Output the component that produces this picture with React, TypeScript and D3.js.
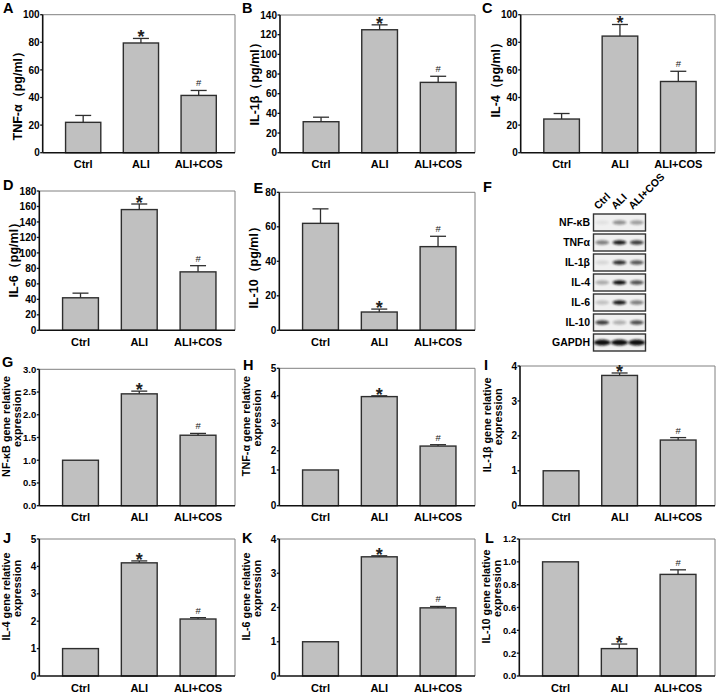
import React from 'react';
import * as d3 from 'd3';

const categories = ['Ctrl', 'ALI', 'ALI+COS'];
const markers = ['', '*', '#'];

// Panel A-E: cytokine levels (pg/ml)
const valuesA = [22, 79.5, 41.5];
const errorsA = [5, 3.3, 3.6];
const valuesB = [31.5, 125, 71.5];
const errorsB = [4.6, 5, 6.2];
const valuesC = [24.4, 84.5, 51.6];
const errorsC = [4, 8.4, 7.4];
const valuesD = [42, 156, 75.5];
const errorsD = [6, 7.2, 8];
const valuesE = [62, 10.6, 48.5];
const errorsE = [8.4, 1.7, 6];
// Panel G-L: relative gene expression
const valuesG = [1, 2.46, 1.55];
const errorsG = [0, 0.06, 0.04];
const valuesH = [1, 3.97, 2.17];
const errorsH = [0, 0.03, 0.05];
const valuesI = [1, 3.73, 1.88];
const errorsI = [0, 0.07, 0.07];
const valuesJ = [1, 4.13, 2.08];
const errorsJ = [0, 0.07, 0.05];
const valuesK = [1, 3.48, 1.99];
const errorsK = [0, 0.03, 0.04];
const valuesL = [1, 0.24, 0.89];
const errorsL = [0, 0.04, 0.04];

// y-axis ticks
const ticksA = [0, 20, 40, 60, 80, 100];
const ticksB = [0, 20, 40, 60, 80, 100, 120, 140];
const ticksC = [0, 20, 40, 60, 80, 100];
const ticksD = [0, 20, 40, 60, 80, 100, 120, 140, 160, 180];
const ticksE = [0, 20, 40, 60, 80];
const ticksG = [0, 0.5, 1, 1.5, 2, 2.5, 3];
const ticksH = [0, 1, 2, 3, 4, 5];
const ticksI = [0, 1, 2, 3, 4];
const ticksJ = [0, 1, 2, 3, 4, 5];
const ticksK = [0, 1, 2, 3, 4];
const ticksL = [0, 0.2, 0.4, 0.6, 0.8, 1, 1.2];

// Western blot (panel F)
const blotRows = ['NF-κB', 'TNFα', 'IL-1β', 'IL-4', 'IL-6', 'IL-10', 'GAPDH'];
const bandNFkB = [0.06, 0.42, 0.36];
const bandTNF = [0.5, 0.95, 0.8];
const bandIL1b = [0.1, 0.85, 0.68];
const bandIL4 = [0.3, 1.0, 0.7];
const bandIL6 = [0.2, 0.95, 0.5];
const bandIL10 = [0.8, 0.28, 0.72];
const bandGAPDH = [1.0, 1.0, 1.0];

const FONT = '"Liberation Sans", Arial, Helvetica, sans-serif';

type Panel = {
  letter: string;
  lx: number; ly: number;
  L: number; T: number; R: number; B: number;
  values: number[]; errors: number[]; ticks: number[];
  fmt: (v: number) => string;
  title: string[];
  tShift: number;
  tickFont: number;
  breaks?: number[]; breakFrac?: number[];
};

const fInt = d3.format('d');
const f1 = d3.format('.1f');

const panels: Panel[] = [
  { letter: 'A', lx: 3, ly: 13, L: 42.7, T: 14.7, R: 235, B: 152.7, values: valuesA, errors: errorsA, ticks: ticksA, fmt: fInt, title: ['TNF-α（pg/ml）'], tShift: 9, tickFont: 10 },
  { letter: 'B', lx: 242, ly: 13, L: 280, T: 15, R: 475, B: 152.7, values: valuesB, errors: errorsB, ticks: ticksB, fmt: fInt, title: ['IL-1β（pg/ml）'], tShift: -3, tickFont: 10 },
  { letter: 'C', lx: 482, ly: 13, L: 520.7, T: 14.7, R: 715, B: 152.7, values: valuesC, errors: errorsC, ticks: ticksC, fmt: fInt, title: ['IL-4（pg/ml）'], tShift: -7, tickFont: 10 },
  { letter: 'D', lx: 3, ly: 190, L: 39.3, T: 191, R: 235, B: 330.3, values: valuesD, errors: errorsD, ticks: ticksD, fmt: fInt, title: ['IL-6（pg/ml）'], tShift: -4, tickFont: 10 },
  { letter: 'E', lx: 253.5, ly: 193, L: 279.3, T: 192.3, R: 475, B: 330.3, values: valuesE, errors: errorsE, ticks: ticksE, fmt: fInt, title: ['IL-10（pg/ml）'], tShift: 3, tickFont: 10 },
  { letter: 'G', lx: 2, ly: 367, L: 39.3, T: 369.3, R: 235, B: 505.7, values: valuesG, errors: errorsG, ticks: ticksG, fmt: f1, title: ['NF-κB gene relative', 'expression'], tShift: 0, tickFont: 9.5 },
  { letter: 'H', lx: 243, ly: 370, L: 279.3, T: 368.3, R: 475, B: 505.7, values: valuesH, errors: errorsH, ticks: ticksH, fmt: fInt, title: ['TNF-α gene relative', 'expression'], tShift: 0, tickFont: 10, breaks: [0, 1, 2, 5], breakFrac: [0, 0.26, 0.4, 1] },
  { letter: 'I', lx: 484, ly: 370, L: 520, T: 366, R: 715, B: 505.7, values: valuesI, errors: errorsI, ticks: ticksI, fmt: fInt, title: ['IL-1β gene relative', 'expression'], tShift: 0, tickFont: 10 },
  { letter: 'J', lx: 3, ly: 543, L: 39.3, T: 539, R: 235, B: 676, values: valuesJ, errors: errorsJ, ticks: ticksJ, fmt: fInt, title: ['IL-4 gene relative', 'expression'], tShift: 0, tickFont: 10 },
  { letter: 'K', lx: 242, ly: 543, L: 279.3, T: 539, R: 475, B: 676, values: valuesK, errors: errorsK, ticks: ticksK, fmt: fInt, title: ['IL-6 gene relative', 'expression'], tShift: 0, tickFont: 10 },
  { letter: 'L', lx: 485, ly: 543, L: 519.3, T: 539, R: 715, B: 676, values: valuesL, errors: errorsL, ticks: ticksL, fmt: f1, title: ['IL-10 gene relative', 'expression'], tShift: 0, tickFont: 9.5 },
];

function BarPanel({ p }: { p: Panel }) {
  const x = d3.scaleBand<string>().domain(categories).range([p.L, p.R])
    .paddingInner(0.39).paddingOuter(0.36).align(0.55);
  const top = p.ticks[p.ticks.length - 1];
  const y = p.breaks
    ? d3.scaleLinear().domain(p.breaks).range(p.breakFrac!.map(f => p.B - f * (p.B - p.T)))
    : d3.scaleLinear().domain([0, top]).range([p.B, p.T]);
  const bw = x.bandwidth();
  const midY = (p.T + p.B) / 2 + p.tShift;
  return (
    <g>
      <text x={p.lx} y={p.ly} fontSize={14.5} fontWeight="bold" fontFamily={FONT}>{p.letter}</text>
      <line x1={p.L} x2={p.R} y1={p.T} y2={p.T} stroke="#808080" strokeWidth={1} />
      <line x1={p.R} x2={p.R} y1={p.T} y2={p.B} stroke="#808080" strokeWidth={1} />
      {categories.map((c, i) => {
        const v = p.values[i];
        const e = p.errors[i];
        const cx = x(c)! + bw / 2;
        const yTop = y(v);
        const yErr = y(v + e);
        return (
          <g key={c}>
            <rect x={x(c)} y={yTop} width={bw} height={p.B - yTop} fill="#c0c0c0" stroke="#2e2e2e" strokeWidth={1.4} />
            {e > 0 && (
              <g stroke="#2e2e2e" strokeWidth={1.3}>
                <line x1={cx} x2={cx} y1={yTop} y2={yErr} />
                <line x1={cx - 8} x2={cx + 8} y1={yErr} y2={yErr} />
              </g>
            )}
            {markers[i] === '*' && (
              <text x={cx} y={yErr + 5} textAnchor="middle" fontSize={18} fontWeight="bold" fontFamily={FONT} fill="#222">*</text>
            )}
            {markers[i] === '#' && (
              <text x={cx} y={yErr - 4} textAnchor="middle" fontSize={9.5} fontFamily={FONT} fill="#222">#</text>
            )}
            <text x={cx} y={p.B + 15.5} textAnchor="middle" fontSize={11} fontWeight="bold" fontFamily={FONT}>{c}</text>
          </g>
        );
      })}
      <line x1={p.L} x2={p.R} y1={p.B} y2={p.B} stroke="#111" strokeWidth={1.6} />
      <line x1={p.L} x2={p.L} y1={p.T} y2={p.B} stroke="#111" strokeWidth={1.6} />
      {p.ticks.map(t => (
        <g key={t}>
          <line x1={p.L - 2.5} x2={p.L} y1={y(t)} y2={y(t)} stroke="#111" strokeWidth={1.3} />
          <text x={p.L - 3} y={y(t)} dy="0.36em" textAnchor="end" fontSize={p.tickFont} fontWeight="bold" fontFamily={FONT}>{p.fmt(t)}</text>
        </g>
      ))}
      {p.title.length === 1 ? (
        <text transform={`translate(${p.L - 21},${midY}) rotate(-90)`} textAnchor="middle" fontSize={12.5} fontWeight="bold" fontFamily={FONT}>{p.title[0]}</text>
      ) : (
        <g>
          <text transform={`translate(${p.L - 29},${midY - 11}) rotate(-90)`} textAnchor="middle" fontSize={10.8} fontWeight="bold" fontFamily={FONT}>{p.title[0]}</text>
          <text transform={`translate(${p.L - 18},${midY - 19}) rotate(-90)`} textAnchor="middle" fontSize={10.8} fontWeight="bold" fontFamily={FONT}>{p.title[1]}</text>
        </g>
      )}
    </g>
  );
}

function Blot() {
  const bands = [bandNFkB, bandTNF, bandIL1b, bandIL4, bandIL6, bandIL10, bandGAPDH];
  const yb = d3.scaleBand<string>().domain(blotRows).range([214, 351]).paddingInner(0.15);
  const xb = d3.scaleBand<string>().domain(categories).range([593.5, 645.5]);
  return (
    <g>
      <defs>
        <filter id="blur" x="-50%" y="-100%" width="200%" height="300%">
          <feGaussianBlur stdDeviation="1.1" />
        </filter>
      </defs>
      <text x={483} y={192} fontSize={14.5} fontWeight="bold" fontFamily={FONT}>F</text>
      {categories.map(c => (
        <text key={c} transform={`translate(${xb(c)! + xb.bandwidth() / 2 - 4},${210}) rotate(-45)`} fontSize={10.5} fontWeight="bold" fontFamily={FONT}>{c}</text>
      ))}
      {blotRows.map((r, ri) => (
        <g key={r}>
          <text x={590} y={yb(r)! + yb.bandwidth() / 2} dy="0.36em" textAnchor="end" fontSize={10.5} fontWeight="bold" fontFamily={FONT}>{r}</text>
          <rect x={593.5} y={yb(r)} width={52} height={yb.bandwidth()} fill="#f0f0f0" stroke="#333" strokeWidth={1.4} />
          {categories.map((c, ci) => (
            <ellipse key={c} cx={xb(c)! + xb.bandwidth() / 2} cy={yb(r)! + yb.bandwidth() / 2}
              rx={ri === 6 ? 8.5 : 7} ry={ri === 6 ? 3 : 2.2} fill="#111" opacity={bands[ri][ci]} filter="url(#blur)" />
          ))}
        </g>
      ))}
    </g>
  );
}

export default function App() {
  return (
    <svg width={720} height={694} style={{ position: 'absolute', left: 0, top: 0, background: '#fff' }}>
      <rect width={720} height={694} fill="#fff" />
      {panels.map(p => <BarPanel key={p.letter} p={p} />)}
      <Blot />
    </svg>
  );
}
